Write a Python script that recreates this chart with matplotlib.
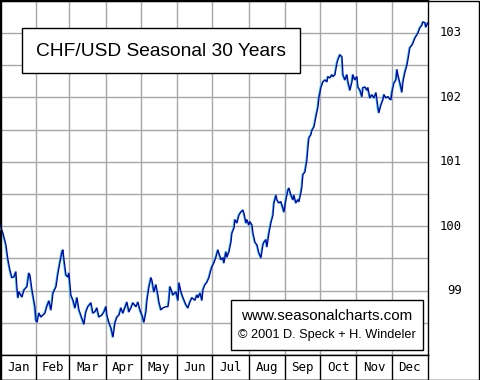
import numpy as np
import matplotlib.pyplot as plt
from matplotlib.patches import Rectangle
from matplotlib.transforms import offset_copy

# seasonal pattern, day of year vs. index value
days = [0, 2.6, 5.1, 6.8, 8.5, 10.2, 11.9, 13.6, 14.5, 15.4, 16.2, 18.8, 20.5, 23.0,
        24.7, 25.6, 27.3, 28.1, 29.8, 30.7, 31.6, 33.3, 35.0, 36.7, 38.4, 40.1, 41.8,
        43.5, 44.3, 45.2, 47.8, 49.5, 51.2, 52.9, 53.7, 54.6, 56.3, 58.0, 58.8, 60.5,
        62.3, 64.0, 65.7, 67.4, 69.9, 71.6, 73.3, 75.0, 77.6, 79.3, 81.0, 82.7, 84.4,
        87.0, 88.7, 90.4, 91.2, 93.0,
        94.7, 96.4, 98.1, 99.8, 101.5, 103.2, 104.9, 107.5, 108.3, 110.0, 111.7, 113.4,
        116.0, 117.7, 119.4, 121.1, 122.8, 124.5, 125.4, 127.1, 128.8, 129.6, 131.3,
        133.0, 134.7, 135.6, 137.3, 139.0, 141.6, 143.3, 144.1, 145.0, 146.7, 147.5,
        150.1, 151.8, 152.7, 154.4, 156.1, 158.6, 160.3, 162.0, 163.7, 166.3, 168.0,
        168.9, 170.6, 172.3, 173.1, 174.8, 176.5, 178.2, 179.9, 180.8, 182.5,
        184.2, 185.9, 188.5, 190.2, 191.0, 192.7, 193.6, 195.3, 197.0, 197.8, 199.6,
        200.4, 202.1, 203.8, 205.5, 207.2, 208.1, 209.8, 210.6, 212.3, 213.2, 214.9,
        215.8, 217.5, 219.2, 220.9, 222.6, 224.3, 225.1, 226.8, 227.7, 229.4, 231.1,
        232.8, 233.7, 235.4, 236.2, 237.9, 239.6, 241.3, 242.2, 243.9, 245.6, 246.5,
        248.2, 249.9, 250.7, 252.4, 254.1, 255.0, 256.7, 257.5, 258.4, 260.1, 261.8,
        262.7, 263.5, 265.2, 266.1, 267.8, 269.5, 271.2, 272.0, 273.7, 275.5, 277.2,
        278.9, 279.7, 281.4, 283.1, 284.0, 285.7, 287.4, 288.2, 289.9, 291.7, 292.5,
        294.2, 295.9, 296.8, 298.5, 300.2, 301.0, 302.7, 304.4, 305.3, 307.0, 308.7,
        309.6, 311.3, 313.0, 313.8, 315.5, 317.2, 318.9, 320.7, 321.5, 322.4, 323.2,
        324.9, 326.6, 327.5, 329.2, 330.9, 331.7, 333.4, 334.3, 336.0, 337.7, 338.6,
        339.4, 341.1, 342.8, 343.7, 345.4, 347.1, 347.9, 349.6, 351.4, 352.2, 353.9,
        355.6, 356.5, 358.2, 359.9, 360.7, 362.4, 363.3, 365.0]
values = [100.02, 99.89, 99.71, 99.48, 99.32, 99.20, 99.21, 99.29, 99.04, 98.89, 98.98,
          98.90, 99.01, 99.06, 99.27, 99.24, 99.01, 98.93, 98.75, 98.54, 98.51, 98.65,
          98.59, 98.62, 98.65, 98.76, 98.84, 98.70, 98.81, 98.96, 99.06, 99.27, 99.44,
          99.60, 99.63, 99.48, 99.24, 99.21, 99.27, 98.93, 98.85, 98.73, 98.89, 98.70,
          98.57, 98.48, 98.67, 98.75, 98.81, 98.65, 98.67, 98.73, 98.59, 98.62, 98.67,
          98.75, 98.62, 98.50,
          98.42, 98.28, 98.50, 98.59, 98.62, 98.73, 98.65, 98.78, 98.82, 98.67, 98.73,
          98.81, 98.75, 98.82, 98.70, 98.62, 98.51, 98.67, 98.85, 99.06, 99.20, 99.16,
          98.98, 99.09, 98.93, 98.82, 98.70, 98.73, 98.75, 98.75, 98.85, 99.06, 98.98,
          98.93, 98.98, 98.85, 99.12, 98.98, 98.89, 98.78, 98.73, 98.82, 98.89, 98.85,
          98.93, 98.89, 98.96, 98.85, 99.01, 99.09, 99.13, 99.20, 99.32, 99.37, 99.43,
          99.52, 99.63, 99.48, 99.51, 99.43, 99.60, 99.52, 99.60, 99.75, 99.89, 99.97,
          100.10, 100.05, 100.17, 100.22, 100.25, 100.20, 100.05, 100.10, 100.02, 100.07,
          100.02, 99.89, 99.75, 99.71, 99.58, 99.51, 99.71, 99.75, 99.79, 99.68, 99.89,
          100.05, 100.17, 100.36, 100.48, 100.41, 100.36, 100.38, 100.28, 100.22, 100.41,
          100.56, 100.59, 100.48, 100.41, 100.48, 100.36, 100.41, 100.38, 100.52, 100.61,
          100.80, 100.84, 101.03, 101.23, 101.37, 101.42, 101.49, 101.54, 101.70, 101.85,
          101.99, 102.15, 102.24, 102.27, 102.24, 102.32, 102.30, 102.35, 102.32, 102.35,
          102.53, 102.58, 102.66, 102.63, 102.35, 102.27, 102.35, 102.24, 102.11, 102.24,
          102.35, 102.27, 102.32, 102.16, 102.11, 102.01, 102.15, 102.16, 102.11, 102.15,
          101.99, 102.04, 101.99, 102.07, 101.96, 101.84, 101.76, 101.88, 101.96, 102.04,
          101.99, 102.01, 101.99, 101.96, 102.08, 102.22, 102.27, 102.43, 102.35, 102.22,
          102.08, 102.24, 102.39, 102.50, 102.58, 102.77, 102.81, 102.84, 102.92, 102.97,
          103.00, 103.08, 103.12, 103.17, 103.16, 103.09, 103.16]

months = ['Jan', 'Feb', 'Mar', 'Apr', 'May', 'Jun',
          'Jul', 'Aug', 'Sep', 'Oct', 'Nov', 'Dec']
month_len = [31, 28, 31, 30, 31, 30, 31, 31, 30, 31, 30, 31]
ytick_vals = [99, 100, 101, 102, 103]

title = 'CHF/USD Seasonal 30 Years'
credit1 = 'www.seasonalcharts.com'
credit2 = '\u00a9 2001 D. Speck + H. Windeler'

W, H = 480, 380
fig = plt.figure(figsize=(W / 100, H / 100), dpi=100)
fig.patch.set_facecolor('white')

month_edges = np.concatenate([[0], np.cumsum(month_len)])
grid_c = '#a8a8a8'


def box(x0, x1, y0, y1):
    # pixel box (top-left origin) drawn on the figure
    fig.patches.append(Rectangle((x0 / W, 1 - y1 / H), (x1 - x0) / W, (y1 - y0) / H,
                                 transform=fig.transFigure, fc='white', ec='black',
                                 lw=1.0, zorder=6))


# main plot area
ax = fig.add_axes([0, 25 / H, 428 / W, 355 / H])
ax.set_xlim(0, 365)
ax.set_ylim(98.0, 103.51)
ax.set_xticks(month_edges[1:-1])
ax.set_yticks(np.arange(98.5, 103.6, 0.5))
ax.grid(True, color=grid_c, lw=1.0)
ax.tick_params(length=0, labelbottom=False, labelleft=False)
for s in ax.spines.values():
    s.set_color('black')
    s.set_linewidth(1.0)

shadow = offset_copy(ax.transData, fig=fig, x=-0.8, y=0.0, units='dots')
ax.plot(days, values, color='#19b4d8', lw=0.9, transform=shadow, zorder=3)
ax.plot(days, values, color='#0000a8', lw=0.9, zorder=4)

# right-hand price labels
for v in ytick_vals:
    ax.text(462 / 428 * 365, v, str(v), ha='right', va='center',
            fontsize=8.8, family='DejaVu Sans Mono', clip_on=False)

# title box
box(22, 300, 28, 73)
fig.text(161 / W, 1 - 51 / H, title, ha='center', va='center',
         fontsize=13.8, family='Liberation Sans', zorder=7)

# credits box
box(231, 423, 300, 350)
fig.text(327 / W, 1 - 316 / H, credit1, ha='center', va='center',
         fontsize=11, family='Liberation Sans', zorder=7)
fig.text(327 / W, 1 - 335 / H, credit2, ha='center', va='center',
         fontsize=9.2, family='Liberation Sans', zorder=7)

# month strip
mx = fig.add_axes([0, 0, 428 / W, 25 / H])
mx.set_xlim(0, 365)
mx.set_ylim(0, 1)
mx.set_xticks([])
mx.set_yticks([])
for e in month_edges[1:-1]:
    mx.axvline(e, color='black', lw=1.0)
for i, m in enumerate(months):
    mx.text((month_edges[i] + month_edges[i + 1]) / 2, 0.5, m,
            ha='center', va='center', fontsize=9, family='DejaVu Sans Mono')
for s in mx.spines.values():
    s.set_color('black')
    s.set_linewidth(1.0)

# outer frame
fig.patches.append(Rectangle((0.5 / W, 0.5 / H), (W - 1.5) / W, (H - 1.5) / H,
                             transform=fig.transFigure, fill=False, ec='black',
                             lw=1.0, zorder=10))

fig.savefig('out.png', dpi=100)
